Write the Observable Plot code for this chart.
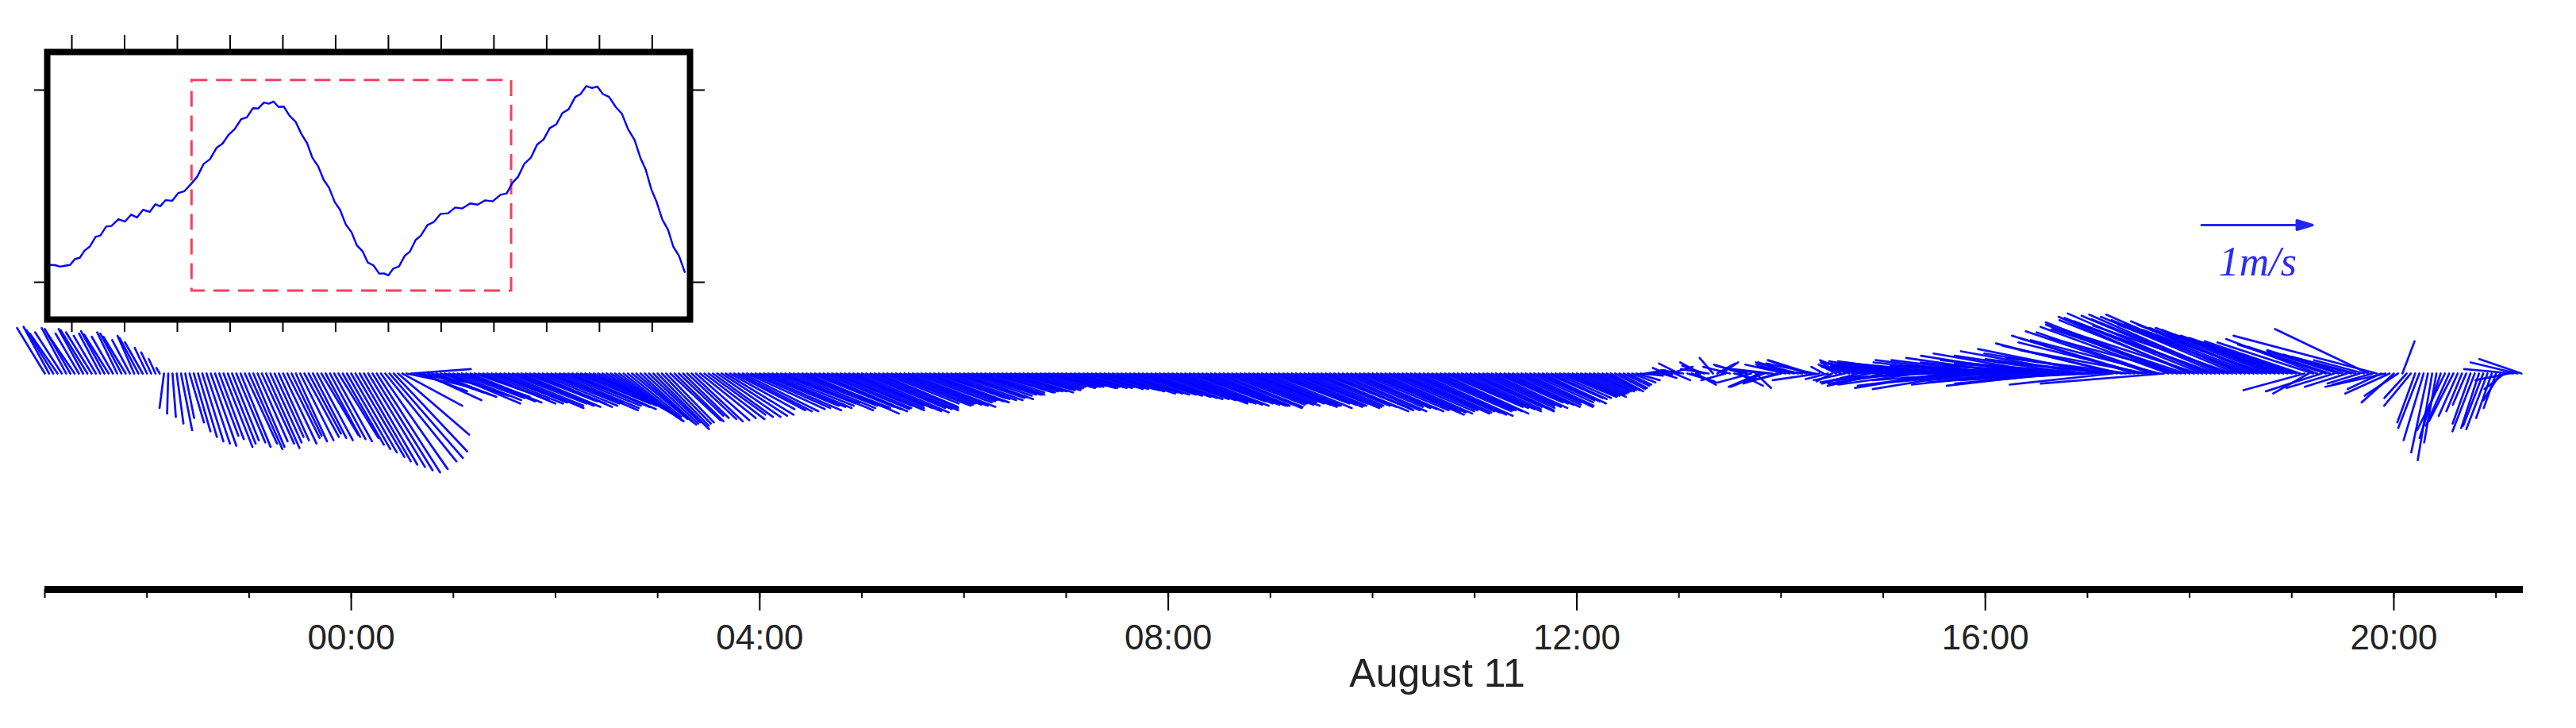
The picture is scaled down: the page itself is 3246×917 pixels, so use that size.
<!DOCTYPE html>
<html><head><meta charset="utf-8">
<script src="https://cdn.jsdelivr.net/npm/d3@7"></script>
<script src="https://cdn.jsdelivr.net/npm/@observablehq/plot@0.6"></script>
<style>
html,body{margin:0;padding:0;background:#fff;}
#wrap{position:relative;width:3246px;height:917px;overflow:hidden;background:#fff;}
#inset{position:absolute;left:0;top:0;}
</style></head><body>
<div id="wrap"><div id="main"></div><div id="inset"></div></div>
<script>
// ---- data ----
const sampleStart = "2019-08-10 21:00";
const sampleStepMinutes = 5;      // samples at 21:00, 21:05, ...
const offsetMinutes = 2.5;        // second set at 21:02:30, 21:07:30, ...
// east (u) and north (v) current components, cm/s, on the whole 5-minute marks
const eastCm = [
-25,-24,-24,-23,-21,-24,-20,-21,-19,-19,-16,-17,-11,-6,
-4,3,10,13,17,21,21,26,24,27,30,27,30,26,30,27,30,29,32,31,34,37,41,46,51,57,64,66,
54,54,43,50,54,57,61,61,64,63,68,64,71,68,71,68,71,68,75,71,75,68,71,64,61,57,54,50,
50,46,46,43,44,41,46,50,51,57,61,64,68,71,71,75,71,79,75,79,75,79,75,79,71,79,75,79,
71,75,71,75,71,68,71,64,68,64,61,61,57,57,54,54,50,51,46,49,46,44,46,43,44,46,49,50,
54,57,61,61,64,68,71,71,75,71,75,71,75,71,75,71,75,71,71,75,71,75,71,75,79,75,79,75,
79,82,79,82,79,82,79,82,79,75,79,71,75,68,71,64,68,61,64,57,61,54,57,50,51,46,43,39,
36,32,29,25,21,21,18,14,13,
20,-18,24,18,-20,-12,15,-24,22,-28,14,-30,-36,-33,-30,-38,-35,-44,
-11,-14,-18,-25,-32,-39,-43,-50,-57,-64,-68,-71,-79,-82,-79,-86,-89,-86,-93,-89,
-93,-100,-89,-100,-93,-104,-100,-96,-107,-104,-107,-107,-111,-107,-93,-107,-111,-107,-114,-107,
-111,-114,-118,-118,-121,-125,-121,-121,-125,-121,-118,-114,-111,-107,-104,-100,-86,-32,-82,-79,
-43,-68,-61,-29,-84,-129,-54,
-29,11,-24,-19,-15,-11,-25,-22,-14,-16,-16,-19,-11,-18,-44,-38
];
const northCm = [
41,39,37,40,36,39,34,38,33,36,30,32,23,13,
-31,-39,-51,-44,-57,-63,-56,-66,-60,-66,-68,-61,-67,-57,-63,-56,-60,-54,-60,-57,-61,-64,-71,-79,-84,-89,-79,-70,
-29,4,-16,-17,-21,-20,-24,-21,-26,-24,-27,-26,-29,-26,-30,-27,-29,-26,-31,-27,-32,-29,-31,-34,-37,-40,-43,-41,
-46,-44,-47,-44,-43,-40,-43,-40,-37,-39,-37,-33,-34,-31,-29,-31,-27,-33,-29,-31,-30,-34,-31,-33,-29,-34,-31,-33,
-30,-29,-27,-29,-26,-24,-26,-23,-24,-21,-20,-19,-19,-17,-16,-16,-14,-15,-13,-13,-12,-11,-13,-12,-13,-14,-14,-16,
-17,-19,-20,-21,-23,-24,-26,-27,-29,-27,-29,-29,-30,-27,-29,-27,-30,-29,-27,-30,-29,-31,-29,-30,-31,-33,-34,-31,
-34,-33,-34,-36,-33,-36,-34,-37,-34,-33,-36,-31,-34,-30,-33,-29,-31,-27,-30,-26,-29,-24,-27,-23,-21,-20,-19,-17,
-16,-14,-16,-13,-10,-6,3,1,-4,
6,9,-7,-10,7,14,10,6,-11,7,-13,-12,4,-8,8,10,12,9,
6,-7,10,7,-9,10,6,-11,9,11,4,-10,9,6,-13,7,3,-14,10,4,
7,3,-10,7,-6,10,4,-11,7,9,-6,9,3,13,-10,25,14,32,21,37,
-9,44,32,51,39,54,44,53,43,53,44,47,39,41,36,34,29,-18,31,26,
-13,21,17,-9,40,34,-12,
-26,29,-29,-49,-71,-62,-51,-43,-34,-45,-49,-50,-31,-14,4,13
];
// east (u) and north (v) components, cm/s, on the half-way marks (2.5 min later)
const eastCmB = [
-23,-25,-22,-24,-22,-23,-19,-22,-18,-20,-15,-16,-9,-3,
-1,6,8,15,19,23,22,25,26,29,28,29,28,27,29,28,31,30,33,32,36,39,44,48,54,60,66,64,
58,48,52,52,56,64,60,62,60,65,66,75,70,69,64,70,69,78,73,73,66,70,67,68,59,56,48,51,
48,50,44,45,40,44,48,54,54,59,58,66,70,77,73,73,70,77,77,83,77,77,72,75,75,82,77,75,
68,73,73,78,70,70,64,66,66,66,61,59,53,55,54,56,50,48,44,47,45,48,44,43,42,47,49,56,
55,59,57,63,66,75,71,73,68,73,73,78,73,73,68,73,73,77,73,73,68,73,73,82,77,77,72,77,
80,86,80,80,75,80,80,84,77,77,70,73,71,75,68,66,60,62,61,64,57,55,50,50,48,48,41,37,
34,30,27,23,21,20,16,13,
-12,14,-20,22,-18,-25,16,-22,20,-26,-30,-28,-34,-30,-36,-32,-40,-38,-42,
-20,-16,-28,-30,-36,-45,-47,-54,-61,-66,-70,-75,-80,-84,-82,-88,-91,-90,-95,-91,
-96,-94,-98,-96,-100,-102,-104,-105,-100,-108,-110,-106,-110,-112,-109,-114,-110,-112,-113,-116,
-115,-118,-120,-121,-124,-123,-124,-123,-122,-120,-116,-112,-109,-105,-102,-96,-55,-86,-50,-74,
-64,-38,-57,-45,-36,-30,-40,
-30,-20,-16,-18,-13,-19,-21,-17,-12,-20,-18,-14,-15,-30,-42
];
const northCmB = [
42,36,41,35,40,37,36,35,37,33,34,28,19,5,
-36,-45,-40,-52,-61,-65,-59,-63,-62,-63,-66,-63,-62,-60,-58,-61,-57,-58,-55,-59,-58,-68,-75,-82,-87,-86,-76,-55,
-12,-8,-24,-19,-18,-27,-22,-25,-21,-27,-25,-31,-27,-29,-25,-30,-27,-33,-29,-30,-27,-30,-33,-39,-38,-42,-39,-44,
-45,-50,-45,-42,-38,-41,-42,-41,-39,-38,-32,-34,-32,-33,-30,-29,-27,-31,-30,-36,-32,-32,-29,-31,-31,-35,-32,-31,
-27,-28,-28,-30,-25,-25,-22,-24,-22,-23,-19,-19,-17,-17,-16,-17,-15,-14,-12,-12,-12,-13,-12,-13,-12,-14,-15,-18,
-18,-19,-19,-22,-23,-27,-26,-28,-25,-28,-29,-31,-28,-28,-26,-28,-29,-31,-28,-29,-27,-30,-29,-34,-32,-33,-30,-32,
-33,-37,-35,-34,-31,-35,-35,-38,-33,-34,-30,-32,-32,-34,-31,-30,-26,-28,-28,-30,-26,-25,-22,-22,-20,-21,-18,-16,
-15,-15,-14,-11,-8,-2,2,-1,
5,-6,3,-8,10,4,9,-6,-5,8,-8,-12,3,-9,8,10,6,12,-6,
-5,8,-6,12,6,-8,9,4,-9,7,-6,11,-4,10,2,-11,8,-6,12,-8,
12,-4,14,2,16,-8,18,12,-9,16,20,-5,22,18,27,10,34,28,38,30,
42,46,40,48,50,47,52,49,51,48,45,44,41,39,35,32,-15,28,-16,24,
20,-12,15,12,-10,-14,-18,
-20,-22,-44,-60,-78,-58,-47,-38,-28,-52,-47,-40,-24,-6,10
];
const majorTickLabels = ["00:00","04:00","08:00","12:00","16:00","20:00"];
const tickDay = "2019-08-11";
const dayLabel = "August 11";
const scaleLabel = "1m/s";
const scaleSpeed = [1];
// inset: water level
const levelMinutes = [11,22,33,44,56,67,78,89,101,114,125,138,150,166,181,195,208,222,237,250,261,273,288,302,316,333,345,360,374,389,403,416,430,445,458,472,484,497,508,519,530,542,555,569,582,595,607,620,633,645,658,670,683,696,708,721,733,746,759,770,780,791,804,817,829,842,854,869,883,899,916,932,948,966,983,1000,1017,1035,1049,1062,1075,1089,1104,1118,1133,1147,1162,1176,1190,1205,1217,1230,1243,1255,1268,1282,1297,1311,1325,1340,1353,1365,1378,1390,1403,1416,1428,1441,1454];
const levelValues = [1.090,1.089,1.081,1.086,1.090,1.121,1.127,1.165,1.186,1.236,1.243,1.290,1.293,1.328,1.316,1.352,1.337,1.377,1.366,1.406,1.395,1.427,1.424,1.464,1.474,1.516,1.549,1.616,1.640,1.699,1.722,1.766,1.796,1.848,1.858,1.906,1.904,1.935,1.929,1.940,1.912,1.914,1.867,1.835,1.772,1.724,1.648,1.604,1.532,1.492,1.417,1.377,1.301,1.261,1.193,1.162,1.103,1.088,1.045,1.046,1.036,1.071,1.082,1.137,1.160,1.220,1.243,1.298,1.313,1.356,1.359,1.389,1.384,1.410,1.404,1.426,1.421,1.455,1.462,1.517,1.549,1.616,1.648,1.716,1.743,1.802,1.822,1.881,1.900,1.964,1.979,2.021,2.011,2.018,1.979,1.964,1.912,1.877,1.797,1.740,1.648,1.588,1.483,1.418,1.326,1.273,1.185,1.137,1.053];
const levelTicks = [1, 2];
const boxMinutes = [333, 1060];
const boxLevels = [0.955, 2.05];

// ---- build ----
if (eastCm.length !== northCm.length || eastCmB.length !== northCmB.length)
  throw new Error("length mismatch " + [eastCm.length, northCm.length, eastCmB.length, northCmB.length]);
const parse = d3.timeParse("%Y-%m-%d %H:%M");
const t0 = parse(sampleStart);
const at = (m) => new Date(t0.getTime() + m * 60000);
const toStick = (t, u, v) => ({time: t, speed: Math.hypot(u, v) / 100, dir: Math.atan2(u, v) * 180 / Math.PI});
const sticks = [
  ...eastCm.map((u, i) => toStick(at(i * sampleStepMinutes), u, northCm[i])),
  ...eastCmB.map((u, i) => toStick(at(i * sampleStepMinutes + offsetMinutes), u, northCmB[i]))
];
const majorTicks = majorTickLabels.map(s => parse(tickDay + " " + s));
const xDomain = [t0, at(1456)];
const minorTicks = d3.timeHour.range(t0, at(1441));
const yDomain = [-1.943, 3.357];

const stickShape = {draw(ctx, l) { ctx.moveTo(0, 0); ctx.lineTo(0, -l); }};
const arrowShape = {draw(ctx, l) {
  const h = 20, w = 6;
  ctx.moveTo(0, 0); ctx.lineTo(0, -l + h);
  ctx.moveTo(-w, -l + h); ctx.lineTo(0, -l); ctx.lineTo(w, -l + h); ctx.closePath();
}};

const main = Plot.plot({
  width: 3246, height: 917,
  marginLeft: 56, marginRight: 67, marginTop: 0, marginBottom: 175,
  x: {type: "time", domain: xDomain},
  y: {domain: yDomain, axis: null},
  length: {domain: [0, 1], range: [0, 140]},
  style: {fontFamily: "'Liberation Sans', Arial, sans-serif", background: "white", color: "#222"},
  marks: [
    Plot.vector(sticks, {x: "time", y: () => 0, length: "speed", rotate: "dir", anchor: "start",
      shape: stickShape, stroke: "#0000ff", strokeWidth: 2.7, strokeOpacity: 0.95}),
    Plot.ruleY([yDomain[0]], {stroke: "black", strokeWidth: 9}),
    Plot.axisX({ticks: minorTicks, tickSize: 11, tickFormat: () => "", label: null, stroke: "black", strokeWidth: 2}),
    Plot.axisX({ticks: majorTicks, tickSize: 27, tickPadding: 17, tickFormat: d3.timeFormat("%H:%M"),
      fontSize: 44, label: null, stroke: "black", strokeWidth: 2, fill: "#222"}),
    Plot.text([dayLabel], {x: () => at(818), y: () => -2.821, text: d => d, fontSize: 50, lineAnchor: "bottom", fill: "#222"}),
    Plot.vector(scaleSpeed, {x: () => at(1267), y: () => 1.336, length: d => d, rotate: 90, anchor: "start",
      shape: arrowShape, stroke: "#2424ff", fill: "#2424ff", strokeWidth: 3}),
    Plot.text([scaleLabel], {x: () => at(1300), y: () => 0.879, text: d => d, fontSize: 52,
      fontFamily: "'Liberation Serif', 'Times New Roman', serif", fontStyle: "italic", fill: "#2a2aff", lineAnchor: "bottom"})
  ]
});
document.getElementById("main").appendChild(main);

const levels = levelMinutes.map((m, i) => ({time: at(m), level: levelValues[i]}));
const insetDomain = [at(4), at(1466)];
const insetTicks = d3.timeHour.every(2).range(insetDomain[0], insetDomain[1]);
const inset = Plot.plot({
  width: 900, height: 430,
  marginLeft: 59, marginRight: 31, marginTop: 65, marginBottom: 28,
  x: {type: "time", domain: insetDomain},
  y: {domain: [0.806, 2.198]},
  style: {background: "transparent"},
  marks: [
    Plot.rect([0], {x1: () => at(boxMinutes[0]), x2: () => at(boxMinutes[1]), y1: () => boxLevels[0], y2: () => boxLevels[1],
      fill: "none", stroke: "#f2415f", strokeWidth: 3, strokeDasharray: "20 11"}),
    Plot.line(levels, {x: "time", y: "level", stroke: "#0000ff", strokeWidth: 2.4}),
    Plot.frame({stroke: "black", strokeWidth: 8}),
    Plot.axisX({anchor: "top", ticks: insetTicks, tickSize: 22, tickFormat: () => "", label: null, stroke: "black", strokeWidth: 2}),
    Plot.axisX({anchor: "bottom", ticks: insetTicks, tickSize: 16, tickFormat: () => "", label: null, stroke: "black", strokeWidth: 2}),
    Plot.axisY({anchor: "left", ticks: levelTicks, tickSize: 16, tickFormat: () => "", label: null, stroke: "black", strokeWidth: 2}),
    Plot.axisY({anchor: "right", ticks: levelTicks, tickSize: 18, tickFormat: () => "", label: null, stroke: "black", strokeWidth: 2})
  ]
});
document.getElementById("inset").appendChild(inset);
</script>
</body></html>
